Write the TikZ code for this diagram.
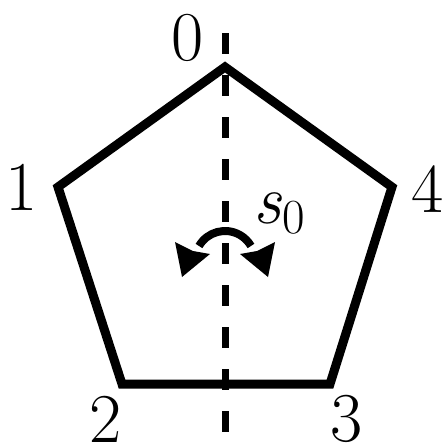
\documentclass[tikz,border=0pt]{standalone}
\usepackage{fontspec}
\usetikzlibrary{arrows.meta}
\begin{document}
\begin{tikzpicture}[x=1pt,y=-1pt,
  edge/.style={line width=9pt,line join=miter},
  axis/.style={line width=7pt,dash pattern=on 21pt off 21pt},
  lbl/.style={font=\fontsize{70}{76}\selectfont,inner sep=0pt}]
\useasboundingbox (0,0) rectangle (446,447);
\coordinate (v0) at (225,67);
\coordinate (v1) at (58,187);
\coordinate (v2) at (122,384);
\coordinate (v3) at (330,384);
\coordinate (v4) at (392,187);
\coordinate (top) at (225,33);
\coordinate (bot) at (225,447);
\draw[axis] (top) -- (bot);
\draw[edge] (v0) -- (v1) -- (v2) -- (v3) -- (v4) -- cycle;
\node[lbl] (l0) at (188,38) {0};
\node[lbl] (l1) at (22,187) {1};
\node[lbl] (l2) at (106,419) {2};
\node[lbl] (l3) at (347,419) {3};
\node[lbl] (l4) at (428,189) {4};
\node[lbl] (s) at (279,213) {\itshape s\kern1pt\raisebox{-10pt}{\upshape\fontsize{49}{52}\selectfont 0}};
\coordinate (ac) at (225,261);
\draw[line width=8pt] ([shift={(-150:30)}]ac) arc[start angle=-150,end angle=-30,radius=30];
\fill (182,277) -- (175,242) -- (193,251) -- (210,254) -- cycle;
\fill (268,277) -- (275,242) -- (257,251) -- (240,254) -- cycle;
\end{tikzpicture}
\end{document}
